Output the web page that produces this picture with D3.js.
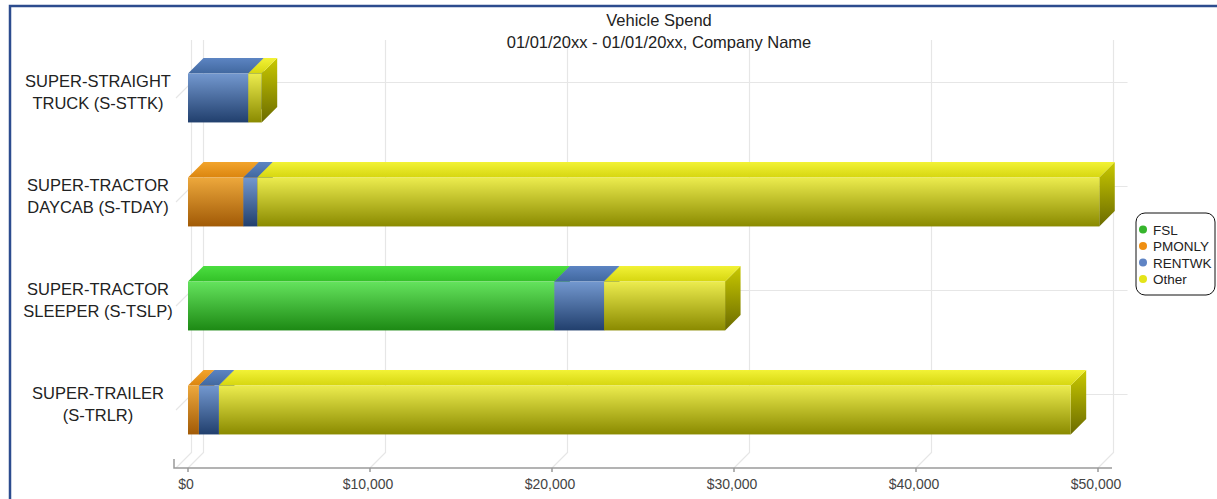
<!DOCTYPE html>
<meta charset="utf-8">
<style>
body { margin: 0; background: #fff; }
text { font-family: "Liberation Sans", Arial, Helvetica, sans-serif; }
.grid { stroke: #e6e6e6; stroke-width: 1.2; fill: none; }
.axis-line { stroke: #9a9a9a; stroke-width: 1.5; fill: none; }
</style>
<body>
<script src="https://cdnjs.cloudflare.com/ajax/libs/d3/7.8.5/d3.min.js"></script>
<script>

// chart values
var categories = ["S-STTK", "S-TDAY", "S-TSLP", "S-TRLR"];
var categoryLines = [
  ["SUPER-STRAIGHT", "TRUCK (S-STTK)"],
  ["SUPER-TRACTOR", "DAYCAB (S-TDAY)"],
  ["SUPER-TRACTOR", "SLEEPER (S-TSLP)"],
  ["SUPER-TRAILER", "(S-TRLR)"]
];
var seriesNames = ["FSL", "PMONLY", "RENTWK", "Other"];
var fsl    = [0, 0, 20130, 0];
var pmonly = [0, 3040, 0, 600];
var rentwk = [3310, 770, 2730, 1100];
var other  = [740, 46260, 6650, 46800];
var tickValues = [0, 10000, 20000, 30000, 40000, 50000];

var colors = {
  FSL:    {front: ["#64e35d", "#1d8914"], top: ["#4bde40", "#33c128"], side: ["#2aa81f", "#146a0e"], dot: "#36b52c"},
  PMONLY: {front: ["#eda83c", "#a15a06"], top: ["#f2a42c", "#db850f"], side: ["#c97a10", "#7d4504"], dot: "#ef8f12"},
  RENTWK: {front: ["#7398cf", "#213f6d"], top: ["#5c84c2", "#41689f"], side: ["#3d64a0", "#1b345b"], dot: "#5f84c4"},
  Other:  {front: ["#ecec4e", "#8a8a00"], top: ["#f2f236", "#d6d610"], side: ["#c9c900", "#6b6b00"], dot: "#e4e41a"}
};

var table = categories.map(function(c, i) {
  return {cat: c, FSL: fsl[i], PMONLY: pmonly[i], RENTWK: rentwk[i], Other: other[i]};
});

var W = 1217, H = 499;
var dx = 15.5, dy = -15.5;   // depth offset of the 3D box
var floorY = 468, backTop = 40;

var svg = d3.select("body").append("svg")
    .attr("width", W)
    .attr("height", H);

var defs = svg.append("defs");
seriesNames.forEach(function(s) {
  var c = colors[s];
  var g1 = defs.append("linearGradient").attr("id", "front-" + s)
      .attr("x1", 0).attr("y1", 0).attr("x2", 0).attr("y2", 1);
  g1.append("stop").attr("offset", "0%").attr("stop-color", c.front[0]);
  g1.append("stop").attr("offset", "100%").attr("stop-color", c.front[1]);
  var g2 = defs.append("linearGradient").attr("id", "top-" + s)
      .attr("x1", 0).attr("y1", 0).attr("x2", 0).attr("y2", 1);
  g2.append("stop").attr("offset", "0%").attr("stop-color", c.top[0]);
  g2.append("stop").attr("offset", "100%").attr("stop-color", c.top[1]);
  var g3 = defs.append("linearGradient").attr("id", "side-" + s)
      .attr("x1", 0).attr("y1", 0).attr("x2", 0).attr("y2", 1);
  g3.append("stop").attr("offset", "0%").attr("stop-color", c.side[0]);
  g3.append("stop").attr("offset", "100%").attr("stop-color", c.side[1]);
});

// outer frame
svg.append("rect")
    .attr("x", 10).attr("y", 6)
    .attr("width", W + 20).attr("height", H + 20)
    .attr("fill", "none")
    .attr("stroke", "#2c4c8e")
    .attr("stroke-width", 2.5);

var x = d3.scaleLinear()
    .domain([0, 50000])
    .range([188, 1098]);

var y = d3.scaleBand()
    .domain(categories)
    .range([46, 462])
    .paddingInner(0.53)
    .paddingOuter(0.265);

var left = x(0) - 12, right = x(50000) + 14;

// back wall grid
var grid = svg.append("g");
grid.selectAll(".vgrid")
    .data(tickValues)
  .enter().append("path")
    .attr("class", "grid")
    .attr("d", function(d) {
      return "M" + x(d) + "," + floorY + "L" + (x(d) + dx) + "," + (floorY + dy) +
             "L" + (x(d) + dx) + "," + backTop;
    });
grid.append("path")
    .attr("class", "grid")
    .attr("d", "M" + left + "," + floorY + "L" + (left + dx) + "," + (floorY + dy) +
               "L" + (left + dx) + "," + backTop);
grid.selectAll(".hgrid")
    .data(categories)
  .enter().append("path")
    .attr("class", "grid")
    .attr("d", function(d) {
      var cy = y(d) + y.bandwidth() / 2;
      return "M" + left + "," + cy + "L" + (left + dx) + "," + (cy + dy) +
             "L" + (right + dx) + "," + (cy + dy);
    });

// x axis
var axis = svg.append("g");
axis.append("path")
    .attr("class", "axis-line")
    .attr("d", "M" + (left - 2) + "," + (floorY - 9) + "V" + floorY + "H" + right);
axis.selectAll(".tick")
    .data(tickValues)
  .enter().append("line")
    .attr("class", "axis-line")
    .attr("x1", function(d) { return x(d); })
    .attr("x2", function(d) { return x(d); })
    .attr("y1", floorY)
    .attr("y2", floorY + 4);
axis.selectAll(".tlabel")
    .data(tickValues)
  .enter().append("text")
    .attr("x", function(d) { return x(d) - 2; })
    .attr("y", 489)
    .attr("text-anchor", "middle")
    .attr("font-size", "14px")
    .attr("fill", "#444")
    .text(function(d) { return "$" + d3.format(",")(d); });

// stacked 3D bars
var stack = d3.stack().keys(seriesNames)(table);
var segs = [];
table.forEach(function(row, i) {
  stack.forEach(function(layer) {
    var p = layer[i];
    if (p[1] - p[0] > 0) segs.push({key: layer.key, cat: row.cat, x0: p[0], x1: p[1]});
  });
});

var bar = svg.append("g").selectAll("g")
    .data(segs)
  .enter().append("g");

bar.append("path")
    .attr("fill", function(d) { return "url(#side-" + d.key + ")"; })
    .attr("d", function(d) {
      var a = x(d.x1), t = y(d.cat), b = t + y.bandwidth();
      return "M" + a + "," + t + "L" + (a + dx) + "," + (t + dy) +
             "L" + (a + dx) + "," + (b + dy) + "L" + a + "," + b + "Z";
    });
bar.append("path")
    .attr("fill", function(d) { return "url(#top-" + d.key + ")"; })
    .attr("d", function(d) {
      var a = x(d.x0), e = x(d.x1), t = y(d.cat);
      return "M" + a + "," + t + "L" + e + "," + t + "L" + (e + dx) + "," + (t + dy) +
             "L" + (a + dx) + "," + (t + dy) + "Z";
    });
bar.append("rect")
    .attr("fill", function(d) { return "url(#front-" + d.key + ")"; })
    .attr("x", function(d) { return x(d.x0); })
    .attr("y", function(d) { return y(d.cat); })
    .attr("width", function(d) { return x(d.x1) - x(d.x0); })
    .attr("height", y.bandwidth());

// category labels
var lab = svg.append("g").selectAll("text")
    .data(categories)
  .enter().append("text")
    .attr("text-anchor", "middle")
    .attr("font-size", "16.5px")
    .attr("fill", "#222");
lab.selectAll("tspan")
    .data(function(d, i) { return categoryLines[i].map(function(t, k) { return {t: t, k: k, c: d}; }); })
  .enter().append("tspan")
    .attr("x", 98)
    .attr("y", function(d) { return y(d.c) + y.bandwidth() / 2 + (d.k === 0 ? -11 : 11); })
    .text(function(d) { return d.t; });

// title
svg.append("text")
    .attr("x", 659).attr("y", 26)
    .attr("text-anchor", "middle")
    .attr("font-size", "16.5px")
    .attr("fill", "#222")
    .text("Vehicle Spend");
svg.append("text")
    .attr("x", 659).attr("y", 48)
    .attr("text-anchor", "middle")
    .attr("font-size", "16.5px")
    .attr("fill", "#222")
    .text("01/01/20xx - 01/01/20xx, Company Name");

// legend
var legend = svg.append("g").attr("transform", "translate(1136,213)");
legend.append("rect")
    .attr("width", 79).attr("height", 82)
    .attr("rx", 9)
    .attr("fill", "#fff")
    .attr("stroke", "#111")
    .attr("stroke-width", 1);
var item = legend.selectAll(".item")
    .data(seriesNames)
  .enter().append("g")
    .attr("transform", function(d, i) { return "translate(0," + (16.5 + i * 16.5) + ")"; });
item.append("circle")
    .attr("cx", 7).attr("cy", 0).attr("r", 4)
    .attr("fill", function(d) { return colors[d].dot; });
item.append("text")
    .attr("x", 17).attr("y", 5)
    .attr("font-size", "13.5px")
    .attr("fill", "#222")
    .text(function(d) { return d; });

</script>
</body>
